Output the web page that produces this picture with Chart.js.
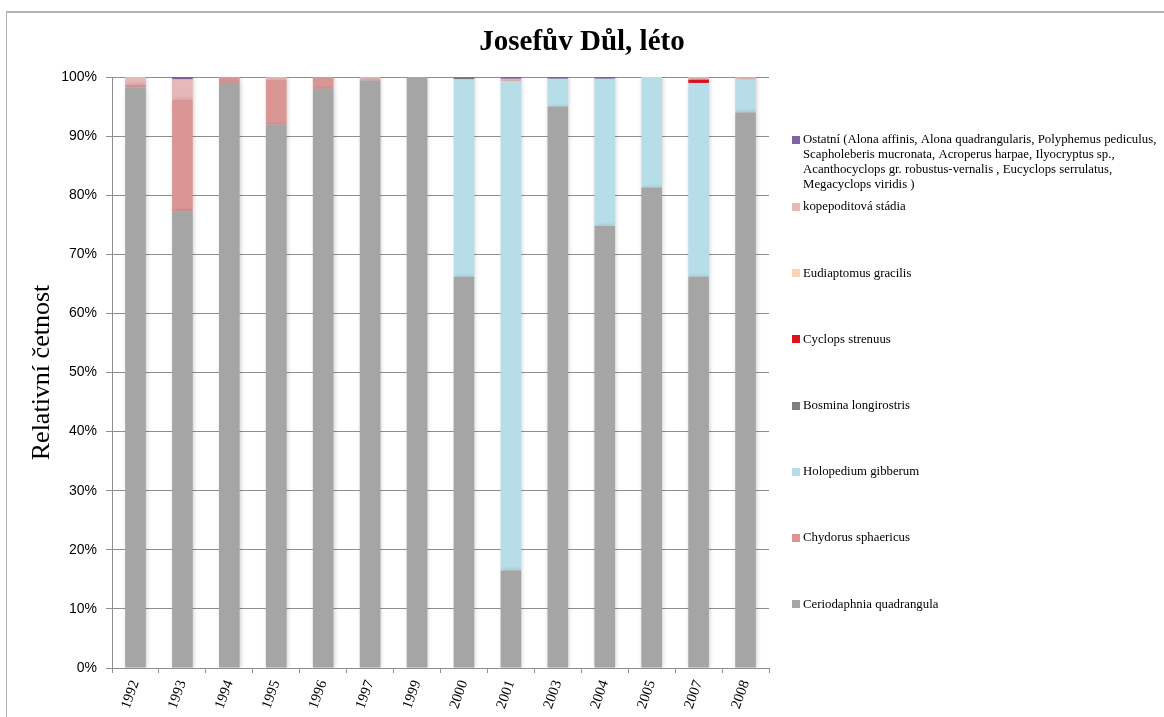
<!DOCTYPE html>
<html lang="cs">
<head>
<meta charset="utf-8">
<title>Josefův Důl, léto</title>
<script src="https://cdn.jsdelivr.net/npm/chart.js@4/dist/chart.umd.min.js"></script>
<style>
  html, body { margin: 0; padding: 0; background: #fff; overflow: hidden; }
  #wrap { position: relative; width: 1164px; height: 717px; }
  #frame { position: absolute; left: 6px; top: 11px; width: 1400px; height: 1000px;
           border-left: 1.5px solid #b3b3b3; border-top: 2px solid #b3b3b3; pointer-events: none; }
  canvas { position: absolute; left: 0; top: 0; }
</style>
</head>
<body>
<div id="wrap">
  <canvas id="chart" width="1164" height="717"></canvas>
  <div id="frame"></div>
</div>
<script>
// Years sampled
const years = ['1992', '1993', '1994', '1995', '1996', '1997', '1999', '2000', '2001', '2003', '2004', '2005', '2007', '2008'];

// Relative abundance (%) of each taxon per year
const ceriodaphnia = [98.2, 77.3, 99.0, 91.9, 98.0, 99.4, 100, 66.2, 16.5, 95.0, 74.8, 81.3, 66.2, 94.0];
const chydorus     = [0.55, 18.9, 1.0, 7.6, 2.0, 0.2, 0, 0, 0, 0, 0, 0, 0, 0];
const holopedium   = [0, 0, 0, 0, 0, 0, 0, 33.4, 82.8, 4.7, 24.9, 18.7, 32.8, 5.6];
const bosmina      = [0, 0, 0, 0, 0, 0, 0, 0.4, 0, 0, 0, 0, 0, 0];
const cyclops      = [0, 0, 0, 0, 0, 0, 0, 0, 0, 0, 0, 0, 0.55, 0];
const eudiaptomus  = [0, 0, 0, 0, 0, 0, 0, 0, 0, 0, 0, 0, 0, 0];
const kopepodity   = [1.25, 3.4, 0, 0.5, 0, 0.4, 0, 0, 0.4, 0, 0, 0, 0.45, 0.4];
const ostatni      = [0, 0.4, 0, 0, 0, 0, 0, 0, 0.3, 0.3, 0.3, 0, 0, 0];

// Series names (legend text, one entry per line)
const seriesNames = [
  ['Ceriodaphnia quadrangula'],
  ['Chydorus sphaericus'],
  ['Holopedium gibberum'],
  ['Bosmina longirostris'],
  ['Cyclops strenuus'],
  ['Eudiaptomus gracilis'],
  ['kopepoditová stádia'],
  ['Ostatní (Alona affinis, Alona quadrangularis, Polyphemus pediculus,',
   'Scapholeberis mucronata, Acroperus harpae, Ilyocryptus sp.,',
   'Acanthocyclops gr. robustus-vernalis , Eucyclops serrulatus,',
   'Megacyclops viridis )']
];
const seriesValues = [ceriodaphnia, chydorus, holopedium, bosmina, cyclops, eudiaptomus, kopepodity, ostatni];
const seriesColors = ['#a5a5a5', '#d99694', '#b7dde8', '#7f7f7f', '#e0101e', '#fcd5b5', '#e6b9b8', '#8064a2'];

// Y axis tick values
const yTicks = [0, 10, 20, 30, 40, 50, 60, 70, 80, 90, 100];

const chartTitle = 'Josefův Důl, léto';
const gridColor = '#8f8f8f';
const serif = '"Liberation Serif", "Times New Roman", serif';

const datasets = seriesValues.map((vals, i) => ({
  label: seriesNames[i].join(' '),
  legendLines: seriesNames[i],
  data: vals,
  backgroundColor: seriesColors[i],
  borderWidth: 0,
  categoryPercentage: 1.0,
  barPercentage: 0.44
}));

// Soft shadow under the bars
const barShadow = {
  id: 'barShadow',
  beforeDatasetsDraw(chart) {
    const ctx = chart.ctx;
    ctx.save();
    ctx.shadowColor = 'rgba(0,0,0,0.18)';
    ctx.shadowBlur = 4;
    ctx.shadowOffsetX = 1;
    ctx.shadowOffsetY = 0;
  },
  afterDatasetsDraw(chart) {
    chart.ctx.restore();
  }
};

// Title centred on the whole canvas
const pageTitle = {
  id: 'pageTitle',
  afterDraw(chart) {
    const ctx = chart.ctx;
    ctx.save();
    ctx.font = 'bold 29px ' + serif;
    ctx.fillStyle = '#000';
    ctx.textAlign = 'center';
    ctx.textBaseline = 'middle';
    ctx.fillText(chartTitle, chart.width / 2, 43);
    ctx.restore();
  }
};

// Legend on the right, top entry = last series
const sideLegend = {
  id: 'sideLegend',
  afterDraw(chart) {
    const ctx = chart.ctx;
    const x0 = chart.chartArea.right + 23;
    const lineH = 15;
    const itemGap = 66.2;
    ctx.save();
    ctx.font = '12.8px ' + serif;
    ctx.textBaseline = 'middle';
    ctx.textAlign = 'left';
    let y = 140;
    const ds = chart.data.datasets;
    for (let i = ds.length - 1; i >= 0; i--) {
      const lines = ds[i].legendLines;
      ctx.fillStyle = ds[i].backgroundColor;
      ctx.fillRect(x0, Math.round(y - 4), 8, 8);
      ctx.fillStyle = '#000';
      lines.forEach((t, k) => ctx.fillText(t, x0 + 11, y + k * lineH));
      const last = y + (lines.length - 1) * lineH;
      y = (lines.length > 1) ? last + 22 : last + itemGap;
    }
    ctx.restore();
  }
};

new Chart(document.getElementById('chart'), {
  type: 'bar',
  data: { labels: years, datasets },
  plugins: [barShadow, pageTitle, sideLegend],
  options: {
    responsive: false,
    animation: false,
    layout: { padding: { left: 0, right: 395, top: 77, bottom: 0 } },
    plugins: {
      legend: { display: false },
      tooltip: { enabled: false },
      title: { display: false }
    },
    scales: {
      x: {
        stacked: true,
        afterFit(scale) { scale.height = 49; },
        grid: { display: true, drawOnChartArea: false, drawTicks: true, tickLength: 5, color: gridColor, offset: true },
        border: { display: true, color: gridColor, width: 1 },
        ticks: {
          color: '#000',
          minRotation: 70, maxRotation: 70,
          padding: 5,
          font: { family: serif, size: 14.5 }
        }
      },
      y: {
        stacked: true,
        min: 0, max: 100,
        afterFit(scale) { scale.width = 112; },
        afterBuildTicks(scale) { scale.ticks = yTicks.map(v => ({ value: v })); },
        grid: { color: gridColor, lineWidth: 1, drawTicks: true, tickLength: 6 },
        border: { display: true, color: gridColor, width: 1 },
        ticks: {
          color: '#000',
          padding: 9,
          font: { family: '"Liberation Sans", Arial, sans-serif', size: 14 },
          callback: v => v + '%'
        },
        title: {
          display: true,
          text: 'Relativní četnost',
          color: '#000',
          font: { family: serif, size: 26 },
          padding: { top: 27, bottom: 0 }
        }
      }
    }
  }
});
</script>
</body>
</html>
